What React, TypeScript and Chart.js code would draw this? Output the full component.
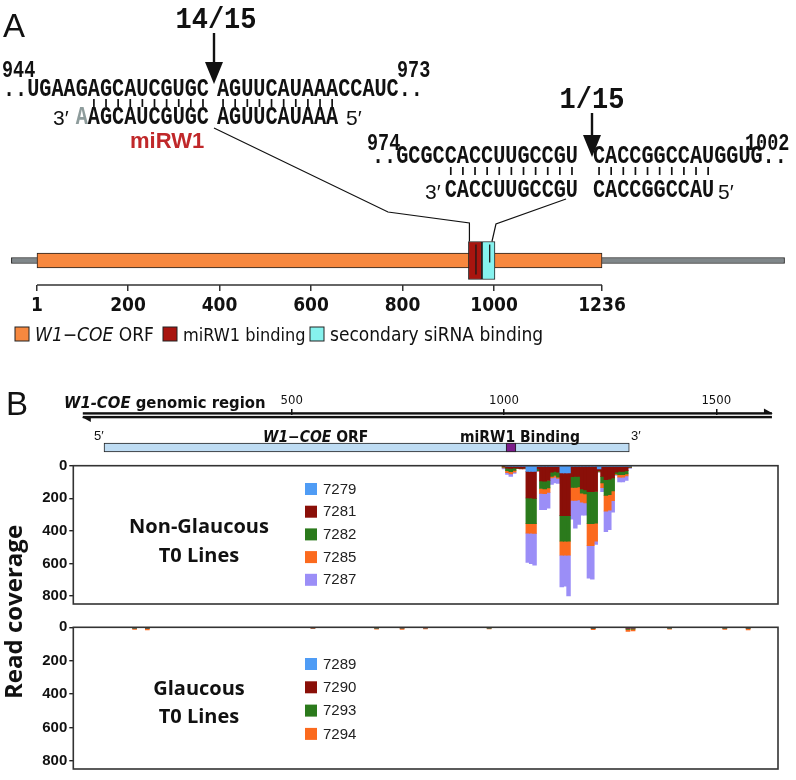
import React, { useEffect, useRef } from "react";
import { Chart, registerables } from "chart.js";
Chart.register(...registerables);

// ---------------- data ----------------
const geneTicks = [1, 200, 400, 600, 800, 1000, 1236];
const orfSpan = [1, 1236];
const flankSpan = [-55, 1635];
const mirw1Site = [944, 973];
const secondarySite = [974, 1002];
const cleavageSites = [960.5, 990.5];

const genomicTicks = [500, 1000, 1500];
const genomicSpan = [8, 1631];
const genomicOrf = [58, 1295];
const genomicMirw1 = [1005, 1028];

const coverageTicks = [0, 200, 400, 600, 800];
const coverageMax = 848;

const nonGlaucousLines = ["7279", "7281", "7282", "7285", "7287"];
const glaucousLines = ["7289", "7290", "7293", "7294"];
const lineColors = ["#4f9cf5", "#8a0f08", "#2b7a1c", "#fb6a1e", "#9b8ef7"];

const covPos = [1000, 1008, 1016, 1024, 1032, 1040, 1048, 1056, 1064, 1072, 1080, 1088, 1096, 1104, 1112, 1120, 1128, 1136, 1144, 1152, 1160, 1168, 1176, 1184, 1192, 1200, 1208, 1216, 1224, 1232, 1240, 1248, 1256, 1264, 1272, 1280, 1288, 1296];
const cov7279 = [0, 2, 2, 2, 3, 2, 3, 35, 35, 35, 5, 3, 3, 3, 5, 5, 5, 44, 44, 44, 3, 3, 3, 3, 3, 3, 3, 3, 20, 5, 5, 5, 5, 5, 5, 5, 5, 2];
const cov7281 = [5, 13, 14, 12, 12, 14, 12, 163, 163, 165, 15, 90, 92, 88, 35, 30, 35, 262, 262, 262, 65, 62, 62, 140, 145, 157, 157, 155, 10, 60, 80, 78, 70, 35, 30, 30, 25, 5];
const cov7282 = [4, 15, 20, 15, 2, 2, 2, 157, 157, 155, 10, 47, 47, 45, 25, 25, 30, 156, 156, 156, 65, 68, 65, 25, 25, 195, 195, 195, 5, 40, 97, 95, 80, 10, 20, 20, 20, 3];
const cov7285 = [4, 12, 15, 10, 1, 1, 2, 58, 58, 60, 3, 30, 30, 28, 10, 10, 8, 87, 87, 87, 80, 80, 80, 55, 55, 135, 135, 110, 3, 30, 97, 95, 60, 5, 15, 15, 12, 2];
const cov7287 = [6, 12, 14, 8, 0, 1, 1, 180, 187, 195, 2, 100, 98, 96, 40, 35, 30, 195, 190, 250, 115, 170, 150, 80, 75, 200, 205, 20, 2, 25, 126, 120, 70, 5, 30, 30, 28, 5];

const glPos = [130, 160, 550, 700, 760, 815, 965, 1210, 1292, 1304, 1390, 1520, 1575];
const cov7289 = [1, 1, 1, 1, 1, 1, 1, 2, 2, 2, 1, 1, 1];
const cov7290 = [3, 4, 2, 3, 2, 2, 3, 3, 6, 5, 3, 3, 4];
const cov7293 = [2, 3, 1, 2, 2, 1, 2, 3, 4, 4, 2, 2, 3];
const cov7294 = [6, 8, 4, 5, 7, 5, 4, 6, 12, 10, 5, 6, 8];

const target1a = "..UGAAGAGCAUCGUGC";
const target1b = "AGUUCAUAAACCAUC..";
const mirnaMismatch = "A";
const mirna1a = "AGCAUCGUGC";
const mirna1b = "AGUUCAUAAA";
const target2a = "..GCGCCACCUUGCCGU";
const target2b = "CACCGGCCAUGGUG..";
const sirna2a = "CACCUUGCCGU";
const sirna2b = "CACCGGCCAU";

// ---------------- layout ----------------
const W = 796;
const MONO = "'Liberation Mono', 'Courier New', monospace";
const SANS = "'Liberation Sans', Arial, sans-serif";
const NARROW = "'Liberation Sans Narrow', 'DejaVu Sans Condensed', 'Liberation Sans', sans-serif";
const OPEN = "'Open Sans', 'Liberation Sans', sans-serif";

const GENE_X_AT_1 = 37;
const GENE_PX = 0.4575;
const COV_X0 = 79.4;
const COV_PX = 0.4246;
const PLOT_L = 73.3;
const PLOT_R = 778;
const covMin = (PLOT_L - COV_X0) / COV_PX;
const covMax = (PLOT_R - COV_X0) / COV_PX;

const SEQ = 20.2;
const CW = SEQ * 0.6;

// ---------------- plugins ----------------
const geneAnnotations = {
  id: "geneAnnotations",
  afterDraw(chart: any) {
    const { ctx, chartArea: a, scales } = chart;
    const x = scales.x;
    ctx.save();
    ctx.strokeStyle = "#333";
    ctx.lineWidth = 1.6;
    ctx.beginPath();
    ctx.moveTo(x.getPixelForValue(orfSpan[0]), a.bottom);
    ctx.lineTo(x.getPixelForValue(orfSpan[1]), a.bottom);
    ctx.stroke();
    const cy = (a.top + a.bottom) / 2;
    ctx.strokeStyle = "#1a1a1a";
    ctx.lineWidth = 1.3;
    cleavageSites.forEach((c, i) => {
      const px = x.getPixelForValue(c);
      ctx.beginPath();
      ctx.moveTo(px, cy - 16);
      ctx.lineTo(px, cy + (i === 0 ? 14 : 2));
      ctx.stroke();
    });
    const boxTop = cy - 19;
    ctx.strokeStyle = "#111";
    ctx.lineWidth = 1.2;
    const l1 = x.getPixelForValue(mirw1Site[0]) + 1;
    ctx.beginPath();
    ctx.moveTo(214, 128);
    ctx.lineTo(388, 212);
    ctx.lineTo(l1, 223);
    ctx.lineTo(l1, boxTop);
    ctx.stroke();
    const r2 = x.getPixelForValue(secondarySite[1]) - 3;
    ctx.beginPath();
    ctx.moveTo(566, 199);
    ctx.lineTo(r2 + 4, 224);
    ctx.lineTo(r2, boxTop);
    ctx.stroke();
    ctx.restore();
  },
};

const genomicLine = {
  id: "genomicLine",
  afterDraw(chart: any) {
    const { ctx, chartArea: a, scales } = chart;
    const x = scales.x;
    const x1 = x.getPixelForValue(genomicSpan[0]);
    const x2 = x.getPixelForValue(genomicSpan[1]);
    const y = a.top;
    ctx.save();
    ctx.fillStyle = "#111";
    ctx.fillRect(x1, y - 2.8, x2 - x1, 2.4);
    ctx.fillRect(x1, y + 0.9, x2 - x1, 2.4);
    ctx.beginPath();
    ctx.moveTo(x2 - 8, y - 6.5);
    ctx.lineTo(x2 + 1, y - 1.4);
    ctx.lineTo(x2 - 8, y - 1.4);
    ctx.closePath();
    ctx.fill();
    ctx.beginPath();
    ctx.moveTo(x1 + 8, y + 7);
    ctx.lineTo(x1 - 1, y + 2);
    ctx.lineTo(x1 + 8, y + 2);
    ctx.closePath();
    ctx.fill();
    ctx.restore();
  },
};

const coverageFrame = {
  id: "coverageFrame",
  afterDraw(chart: any, _args: any, opts: any) {
    const { ctx, chartArea: a } = chart;
    ctx.save();
    ctx.strokeStyle = "#333";
    ctx.lineWidth = 1.6;
    ctx.strokeRect(a.left, a.top, a.right - a.left, a.bottom - a.top);
    chart.data.datasets.forEach((ds: any, i: number) => {
      const y = opts.y + i * opts.gap;
      ctx.fillStyle = ds.backgroundColor;
      ctx.fillRect(opts.x, y, 12, 12);
      ctx.fillStyle = "#222";
      ctx.font = `15px ${SANS}`;
      ctx.textBaseline = "middle";
      ctx.textAlign = "left";
      ctx.fillText(ds.label, opts.x + 18, y + 6.5);
    });
    ctx.restore();
  },
};

// ---------------- configs ----------------
function geneConfig(): any {
  const xmin = 1 - GENE_X_AT_1 / GENE_PX;
  const xmax = xmin + W / GENE_PX;
  const common = { borderColor: "#222", borderWidth: 1, borderSkipped: false, grouped: false };
  return {
    type: "bar",
    data: {
      labels: ["gene"],
      datasets: [
        { label: "miRW1 binding", data: [mirw1Site], backgroundColor: "#a8150f", barThickness: 38, ...common },
        { label: "secondary siRNA binding", data: [secondarySite], backgroundColor: "#86f2ee", barThickness: 38, ...common },
        { label: "W1-COE ORF", data: [orfSpan], backgroundColor: "#f7883f", barThickness: 15, ...common },
        { label: "flank", data: [flankSpan], backgroundColor: "#80878a", barThickness: 6, ...common },
      ],
    },
    options: {
      indexAxis: "y",
      responsive: false,
      animation: false,
      devicePixelRatio: 1,
      events: [],
      layout: { padding: { top: 236, left: 0, right: 0, bottom: 0 } },
      scales: {
        x: {
          type: "linear",
          min: xmin,
          max: xmax,
          afterBuildTicks: (s: any) => {
            s.ticks = geneTicks.map((v) => ({ value: v }));
          },
          afterFit: (s: any) => {
            s.height = 35;
          },
          ticks: {
            autoSkip: false,
            maxRotation: 0,
            padding: 4,
            color: "#111",
            font: { family: NARROW, size: 19, weight: "bold" },
            callback: (v: any) => String(v),
          },
          grid: { drawOnChartArea: false, drawTicks: true, tickLength: 6, color: "#333", lineWidth: 1.5 },
          border: { display: false },
        },
        y: { display: false },
      },
      plugins: { legend: { display: false }, tooltip: { enabled: false } },
    },
    plugins: [geneAnnotations],
  };
}

function headerConfig(): any {
  const common = { borderColor: "#222", borderWidth: 1, borderSkipped: false, grouped: false, barThickness: 9 };
  return {
    type: "bar",
    data: {
      labels: ["region"],
      datasets: [
        { label: "miRW1 Binding", data: [genomicMirw1], backgroundColor: "#7b1d8a", ...common },
        { label: "W1-COE ORF", data: [genomicOrf], backgroundColor: "#bedcf3", ...common },
      ],
    },
    options: {
      indexAxis: "y",
      responsive: false,
      animation: false,
      devicePixelRatio: 1,
      events: [],
      layout: { padding: { top: 0, left: PLOT_L, right: W - PLOT_R, bottom: 0 } },
      scales: {
        x: {
          type: "linear",
          position: "top",
          min: covMin,
          max: covMax,
          afterBuildTicks: (s: any) => {
            s.ticks = genomicTicks.map((v) => ({ value: v }));
          },
          afterFit: (s: any) => {
            s.height = 30;
          },
          ticks: {
            autoSkip: false,
            maxRotation: 0,
            padding: 1,
            color: "#111",
            font: { family: NARROW, size: 13 },
            callback: (v: any) => String(v),
          },
          grid: { drawOnChartArea: false, drawTicks: true, tickLength: 6, color: "#111", lineWidth: 1.5 },
          border: { display: false },
        },
        y: { display: false },
      },
      plugins: { legend: { display: false }, tooltip: { enabled: false } },
    },
    plugins: [genomicLine],
  };
}

function coverageConfig(
  lines: string[],
  pos: number[],
  series: number[][],
  legend: { x: number; y: number; gap: number },
  padTop: number,
  padBottom: number,
  thickness: number
): any {
  return {
    type: "bar",
    data: {
      datasets: lines.map((name, i) => ({
        label: name,
        data: pos.map((x, j) => ({ x, y: series[i][j] })),
        backgroundColor: lineColors[i],
        borderWidth: 0,
        barThickness: thickness,
        stack: "reads",
      })),
    },
    options: {
      responsive: false,
      animation: false,
      devicePixelRatio: 1,
      events: [],
      layout: { padding: { top: padTop, bottom: padBottom, left: 0, right: W - PLOT_R } },
      scales: {
        x: { type: "linear", min: covMin, max: covMax, stacked: true, display: false, offset: false },
        y: {
          reverse: true,
          min: 0,
          max: coverageMax,
          stacked: true,
          afterBuildTicks: (s: any) => {
            s.ticks = coverageTicks.map((v) => ({ value: v }));
          },
          afterFit: (s: any) => {
            s.width = PLOT_L;
          },
          ticks: { padding: 2, color: "#111", font: { family: SANS, size: 15, weight: "bold" } },
          grid: { drawOnChartArea: false, drawTicks: true, tickLength: 4, color: "#222", lineWidth: 1.4 },
          border: { display: false },
        },
      },
      plugins: { legend: { display: false }, tooltip: { enabled: false }, coverageFrame: legend },
    },
    plugins: [coverageFrame],
  };
}

// ---------------- components ----------------
function ChartCanvas({ top, height, build }: { top: number; height: number; build: () => any }) {
  const ref = useRef<HTMLCanvasElement>(null);
  useEffect(() => {
    const chart = new Chart(ref.current as HTMLCanvasElement, build());
    return () => chart.destroy();
  }, []);
  return (
    <canvas
      ref={ref}
      width={W}
      height={height}
      style={{ position: "absolute", left: 0, top, width: W, height }}
    />
  );
}

function Mono({ x, y, size = SEQ, sy = 1.28, fill = "#111", anchor = "start", children }: any) {
  return (
    <text
      transform={`translate(${x},${y}) scale(1,${sy})`}
      fontFamily={MONO}
      fontWeight={700}
      fontSize={size}
      fill={fill}
      textAnchor={anchor}
    >
      {children}
    </text>
  );
}

function PairTicks({ x0, start, count, y1, y2 }: any) {
  const items = [];
  for (let i = 0; i < count; i++) {
    const x = x0 + (start + i + 0.5) * CW;
    items.push(<line key={i} x1={x} x2={x} y1={y1} y2={y2} stroke="#111" strokeWidth={1.7} />);
  }
  return <g>{items}</g>;
}

function Arrow({ x, y1, y2 }: any) {
  return (
    <g>
      <line x1={x} x2={x} y1={y1} y2={y2 - 18} stroke="#111" strokeWidth={2.4} />
      <polygon points={`${x - 9},${y2 - 22} ${x + 9},${y2 - 22} ${x},${y2}`} fill="#111" />
    </g>
  );
}

export default function App() {
  const x1a = 3;
  const x1b = 217;
  const x2a = 372;
  const x2b = 593;
  return (
    <div style={{ position: "absolute", left: 0, top: 0, width: W, height: 780, background: "#fff", overflow: "hidden" }}>
      <ChartCanvas top={0} height={320} build={geneConfig} />
      <ChartCanvas top={385} height={95} build={headerConfig} />
      <ChartCanvas
        top={450}
        height={165}
        build={() =>
          coverageConfig(nonGlaucousLines, covPos, [cov7279, cov7281, cov7282, cov7285, cov7287], { x: 305, y: 33, gap: 22.7 }, 15.7, 3.7, 3.8)
        }
      />
      <ChartCanvas
        top={615}
        height={165}
        build={() =>
          coverageConfig(glaucousLines, glPos, [cov7289, cov7290, cov7293, cov7294], { x: 305, y: 43, gap: 23.3 }, 12.3, 7.7, 4)
        }
      />
      <svg width={W} height={780} style={{ position: "absolute", left: 0, top: 0, pointerEvents: "none" }}>
        {/* Panel A */}
        <text x={3} y={37} fontFamily={SANS} fontSize={33} fill="#111">A</text>
        <Mono x={216} y={28} size={27} sy={1.1} anchor="middle">14/15</Mono>
        <Arrow x={214} y1={33} y2={84} />
        <Mono x={2} y={77} size={18.5} sy={1.25}>944</Mono>
        <Mono x={397} y={77} size={18.5} sy={1.25}>973</Mono>
        <Mono x={x1a} y={96}>{target1a}</Mono>
        <Mono x={x1b} y={96}>{target1b}</Mono>
        <PairTicks x0={x1a} start={7} count={mirna1a.length} y1={99} y2={107} />
        <PairTicks x0={x1b} start={0} count={mirna1b.length} y1={99} y2={107} />
        <text x={53} y={125} fontFamily={SANS} fontSize={21} fill="#111">3′</text>
        <Mono x={x1a + 6 * CW} y={124} fill="#8e9c9c">{mirnaMismatch}</Mono>
        <Mono x={x1a + 7 * CW} y={124}>{mirna1a}</Mono>
        <Mono x={x1b} y={124}>{mirna1b}</Mono>
        <text x={346} y={125} fontFamily={SANS} fontSize={21} fill="#111">5′</text>
        <text x={130} y={148} fontFamily={SANS} fontWeight={700} fontSize={22} fill="#c0282a">miRW1</text>

        <Mono x={592} y={108} size={27} sy={1.1} anchor="middle">1/15</Mono>
        <Arrow x={592} y1={113} y2={157} />
        <Mono x={367} y={150} size={18.5} sy={1.25}>974</Mono>
        <Mono x={745} y={150} size={18.5} sy={1.25}>1002</Mono>
        <Mono x={x2a} y={163}>{target2a}</Mono>
        <Mono x={x2b} y={163}>{target2b}</Mono>
        <PairTicks x0={x2a} start={6} count={sirna2a.length} y1={167} y2={175} />
        <PairTicks x0={x2b} start={0} count={sirna2b.length} y1={167} y2={175} />
        <text x={425} y={199} fontFamily={SANS} fontSize={21} fill="#111">3′</text>
        <Mono x={x2a + 6 * CW} y={197}>{sirna2a}</Mono>
        <Mono x={x2b} y={197}>{sirna2b}</Mono>
        <text x={718} y={199} fontFamily={SANS} fontSize={21} fill="#111">5′</text>

        {/* Panel A legend */}
        <rect x={15} y={327} width={14} height={14} fill="#f7883f" stroke="#222" strokeWidth={1} />
        <text x={35} y={341} fontFamily={NARROW} fontSize={19} fill="#111">
          <tspan fontStyle="italic">W1−COE</tspan> ORF
        </text>
        <rect x={163} y={327} width={14} height={14} fill="#a8150f" stroke="#222" strokeWidth={1} />
        <text x={183} y={341} fontFamily={NARROW} fontSize={18} fill="#111">miRW1 binding</text>
        <rect x={310} y={327} width={14} height={14} fill="#86f2ee" stroke="#222" strokeWidth={1} />
        <text x={330} y={341} fontFamily={NARROW} fontSize={19} fill="#111">secondary siRNA binding</text>

        {/* Panel B */}
        <text x={6} y={415} fontFamily={SANS} fontSize={33} fill="#111">B</text>
        <text x={64} y={408} fontFamily={NARROW} fontWeight={700} fontSize={16.5} fill="#111">
          <tspan fontStyle="italic">W1-COE</tspan> genomic region
        </text>
        <text x={94} y={440} fontFamily={SANS} fontSize={13} fill="#111">5′</text>
        <text x={263} y={442} fontFamily={NARROW} fontWeight={700} fontSize={15.5} fill="#111">
          <tspan fontStyle="italic">W1−COE</tspan> ORF
        </text>
        <text x={460} y={442} fontFamily={NARROW} fontWeight={700} fontSize={15.5} fill="#111">miRW1 Binding</text>
        <text x={631} y={440} fontFamily={SANS} fontSize={13} fill="#111">3′</text>

        <text transform="translate(22,612) rotate(-90)" textAnchor="middle" fontFamily={OPEN} fontWeight={700} fontSize={24} fill="#111">
          Read coverage
        </text>
        <text x={199} y={533} textAnchor="middle" fontFamily={OPEN} fontWeight={700} fontSize={20} fill="#111">Non-Glaucous</text>
        <text x={199} y={562} textAnchor="middle" fontFamily={OPEN} fontWeight={700} fontSize={20} fill="#111">T0 Lines</text>
        <text x={199} y={695} textAnchor="middle" fontFamily={OPEN} fontWeight={700} fontSize={20} fill="#111">Glaucous</text>
        <text x={199} y={723} textAnchor="middle" fontFamily={OPEN} fontWeight={700} fontSize={20} fill="#111">T0 Lines</text>
      </svg>
    </div>
  );
}
